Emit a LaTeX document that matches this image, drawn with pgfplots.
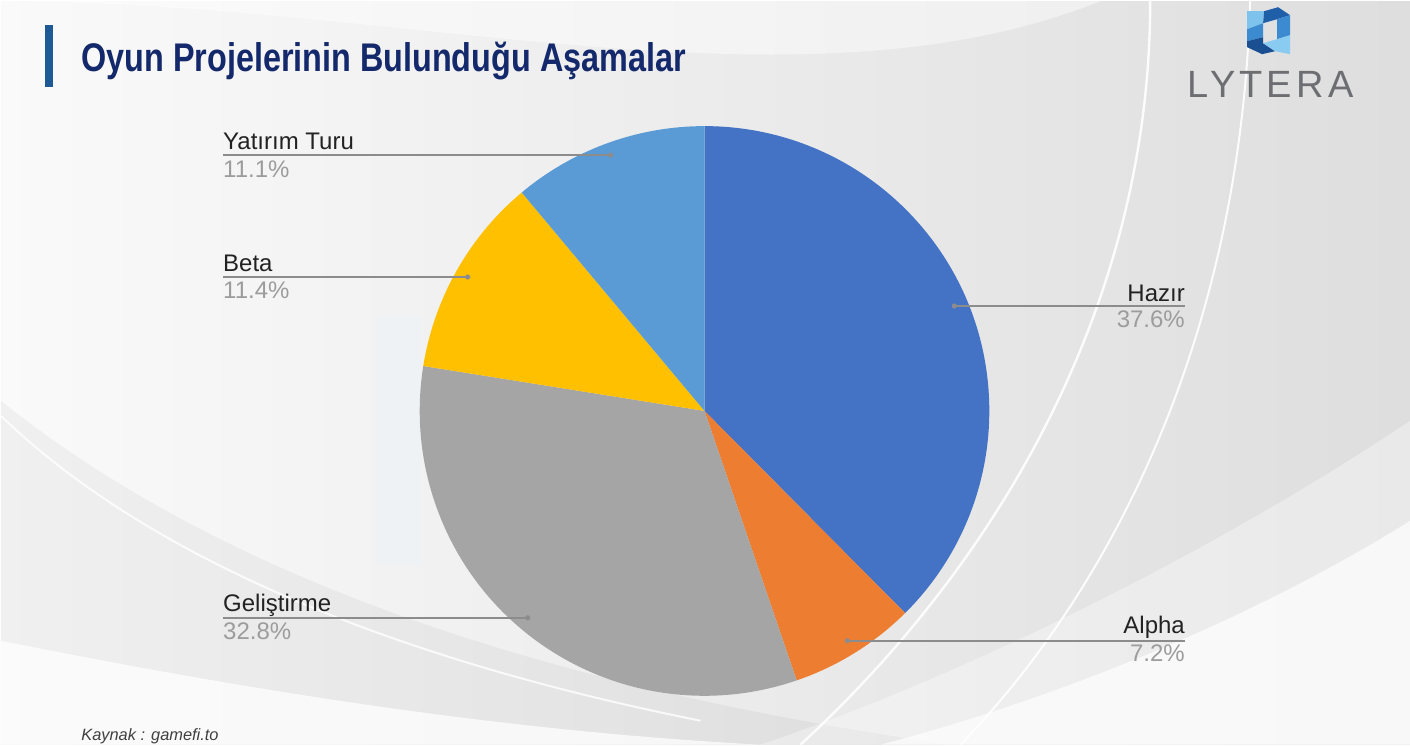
\documentclass[border=0pt]{standalone}
\usepackage{pgfplots}
\pgfplotsset{compat=1.18}
\usepackage{graphicx}
\usepackage{fontspec}
\setmainfont{Liberation Sans}
\definecolor{cHazir}{HTML}{4472C4}
\definecolor{cAlpha}{HTML}{ED7D31}
\definecolor{cGel}{HTML}{A5A5A5}
\definecolor{cBeta}{HTML}{FFC000}
\definecolor{cYat}{HTML}{5B9BD5}
\definecolor{navy}{HTML}{13296B}
\definecolor{barc}{HTML}{1D5A96}
\definecolor{leader}{HTML}{8C8C8C}
\definecolor{pct}{HTML}{9C9C9C}
\definecolor{lab}{HTML}{222222}
\definecolor{logog}{HTML}{6D6E71}
\definecolor{lgA}{HTML}{7EC3EE}
\definecolor{lgB}{HTML}{1F5FA8}
\definecolor{lgC}{HTML}{3C8AD0}
\definecolor{lgD}{HTML}{8ACBF2}
\definecolor{lgE}{HTML}{1A4F91}
% data (percent)
\def\vA{37.6}% Hazir
\def\vB{7.2}% Alpha
\def\vC{32.8}% Gelistirme
\def\vD{11.4}% Beta
\def\vE{11.1}% Yatirim Turu
\pgfmathsetmacro\tot{\vA+\vB+\vC+\vD+\vE}
\pgfmathsetmacro\aO{90}
\pgfmathsetmacro\aA{\aO-360*\vA/\tot}
\pgfmathsetmacro\aB{\aA-360*\vB/\tot}
\pgfmathsetmacro\aC{\aB-360*\vC/\tot}
\pgfmathsetmacro\aD{\aC-360*\vD/\tot}
\pgfmathsetmacro\aE{\aD-360*\vE/\tot}
\newcommand\lbl{\fontsize{12}{14}\selectfont}
\begin{document}
\begin{tikzpicture}
\begin{axis}[width=705pt,height=372pt,scale only axis,
  xmin=0,xmax=1410,ymin=0,ymax=744,y dir=reverse,
  hide axis,clip=false]
% background
\shade[left color=white!98!black,right color=white!87!black] (axis cs:0,0) rectangle (axis cs:1410,744);
\fill[white,opacity=0.45] (axis cs:0,0) .. controls (axis cs:400,0) and (axis cs:800,120) .. (axis cs:1100,0) -- cycle;
\fill[black,opacity=0.04] (axis cs:0,400) .. controls (axis cs:200,560) and (axis cs:500,680) .. (axis cs:950,744) -- (axis cs:0,744) -- cycle;
\fill[white,opacity=0.75] (axis cs:0,640) .. controls (axis cs:250,690) and (axis cs:500,730) .. (axis cs:760,744) -- (axis cs:0,744) -- cycle;
\fill[white,opacity=0.7] (axis cs:1410,520) .. controls (axis cs:1250,620) and (axis cs:1050,700) .. (axis cs:880,744) -- (axis cs:1410,744) -- cycle;
\fill[white,opacity=0.35] (axis cs:1410,420) .. controls (axis cs:1200,560) and (axis cs:950,680) .. (axis cs:760,744) -- (axis cs:1410,744) -- cycle;
\draw[white,line width=1.2pt,opacity=0.9] (axis cs:1150,0) .. controls (axis cs:1150,300) and (axis cs:1000,560) .. (axis cs:800,744);
\draw[white,line width=1pt,opacity=0.9] (axis cs:1250,0) .. controls (axis cs:1240,350) and (axis cs:1100,600) .. (axis cs:960,744);
\draw[white,line width=1pt,opacity=0.8] (axis cs:0,415) .. controls (axis cs:150,560) and (axis cs:400,660) .. (axis cs:700,720);
\fill[cYat!12,opacity=0.4] (axis cs:375,315) rectangle (axis cs:420,565);
% pie
\fill[cHazir] (axis cs:704,410) -- ([shift={(\aO:142.5pt)}]axis cs:704,410) arc[start angle=\aO,end angle=\aA,radius=142.5pt] -- cycle;
\fill[cAlpha] (axis cs:704,410) -- ([shift={(\aA:142.5pt)}]axis cs:704,410) arc[start angle=\aA,end angle=\aB,radius=142.5pt] -- cycle;
\fill[cGel] (axis cs:704,410) -- ([shift={(\aB:142.5pt)}]axis cs:704,410) arc[start angle=\aB,end angle=\aC,radius=142.5pt] -- cycle;
\fill[cBeta] (axis cs:704,410) -- ([shift={(\aC:142.5pt)}]axis cs:704,410) arc[start angle=\aC,end angle=\aD,radius=142.5pt] -- cycle;
\fill[cYat] (axis cs:704,410) -- ([shift={(\aD:142.5pt)}]axis cs:704,410) arc[start angle=\aD,end angle=\aE,radius=142.5pt] -- cycle;
% leader lines
\draw[leader,line width=0.75pt] (axis cs:610,154) -- (axis cs:222,154);
\fill[leader] (axis cs:610,154) circle[radius=1.3pt];
\draw[leader,line width=0.75pt] (axis cs:467,276) -- (axis cs:222,276);
\fill[leader] (axis cs:467,276) circle[radius=1.3pt];
\draw[leader,line width=0.75pt] (axis cs:527,617) -- (axis cs:222,617);
\fill[leader] (axis cs:527,617) circle[radius=1.3pt];
\draw[leader,line width=0.75pt] (axis cs:954,305) -- (axis cs:1185,305);
\fill[leader] (axis cs:954,305) circle[radius=1.3pt];
\draw[leader,line width=0.75pt] (axis cs:847,640) -- (axis cs:1185,640);
\fill[leader] (axis cs:847,640) circle[radius=1.3pt];
% labels
\node[anchor=base west,inner sep=0,text=lab] at (axis cs:222,148) {\lbl Yatırım Turu};
\node[anchor=base west,inner sep=0,text=pct] at (axis cs:222,176) {\lbl \vE\%};
\node[anchor=base west,inner sep=0,text=lab] at (axis cs:222,270) {\lbl Beta};
\node[anchor=base west,inner sep=0,text=pct] at (axis cs:222,297) {\lbl \vD\%};
\node[anchor=base west,inner sep=0,text=lab] at (axis cs:222,611) {\lbl Geliştirme};
\node[anchor=base west,inner sep=0,text=pct] at (axis cs:222,639) {\lbl \vC\%};
\node[anchor=base east,inner sep=0,text=lab] at (axis cs:1185,300) {\lbl Hazır};
\node[anchor=base east,inner sep=0,text=pct] at (axis cs:1185,327) {\lbl \vA\%};
\node[anchor=base east,inner sep=0,text=lab] at (axis cs:1185,633) {\lbl Alpha};
\node[anchor=base east,inner sep=0,text=pct] at (axis cs:1185,661) {\lbl \vB\%};
% title
\fill[barc] (axis cs:44,24) rectangle (axis cs:52,86);
\node[anchor=base west,inner sep=0,text=navy] at (axis cs:80,70) {\scalebox{0.81}[1]{\fontsize{20}{24}\selectfont\bfseries Oyun Projelerinin Bulunduğu Aşamalar}};
% logo
\fill[lgA] (axis cs:1247,10) -- (axis cs:1264,10) -- (axis cs:1263,22) -- (axis cs:1247,28) -- cycle;
\fill[lgC] (axis cs:1247,28) -- (axis cs:1263,22) -- (axis cs:1263,36) -- (axis cs:1247,40) -- cycle;
\fill[lgE] (axis cs:1247,40) -- (axis cs:1263,36) -- (axis cs:1263,42) -- (axis cs:1275,50) -- (axis cs:1262,53) -- (axis cs:1247,46) -- cycle;
\fill[lgB] (axis cs:1264,10) -- (axis cs:1278,6) -- (axis cs:1290,14) -- (axis cs:1277,18) -- (axis cs:1263,22) -- cycle;
\fill[lgC] (axis cs:1290,14) -- (axis cs:1290,34) -- (axis cs:1277,38) -- (axis cs:1277,18) -- cycle;
\fill[lgD] (axis cs:1290,34) -- (axis cs:1290,53) -- (axis cs:1275,50) -- (axis cs:1263,42) -- (axis cs:1277,38) -- cycle;
\node[anchor=base west,inner sep=0,text=logog] at (axis cs:1187,96) {\fontsize{19}{21}\selectfont\addfontfeature{LetterSpace=11}LYTERA};
% source
\node[anchor=base west,inner sep=0,text=black!75] at (axis cs:80,740) {\fontsize{8.2}{10}\selectfont\itshape Kaynak : gamefi.to};
\end{axis}
\end{tikzpicture}
\end{document}
